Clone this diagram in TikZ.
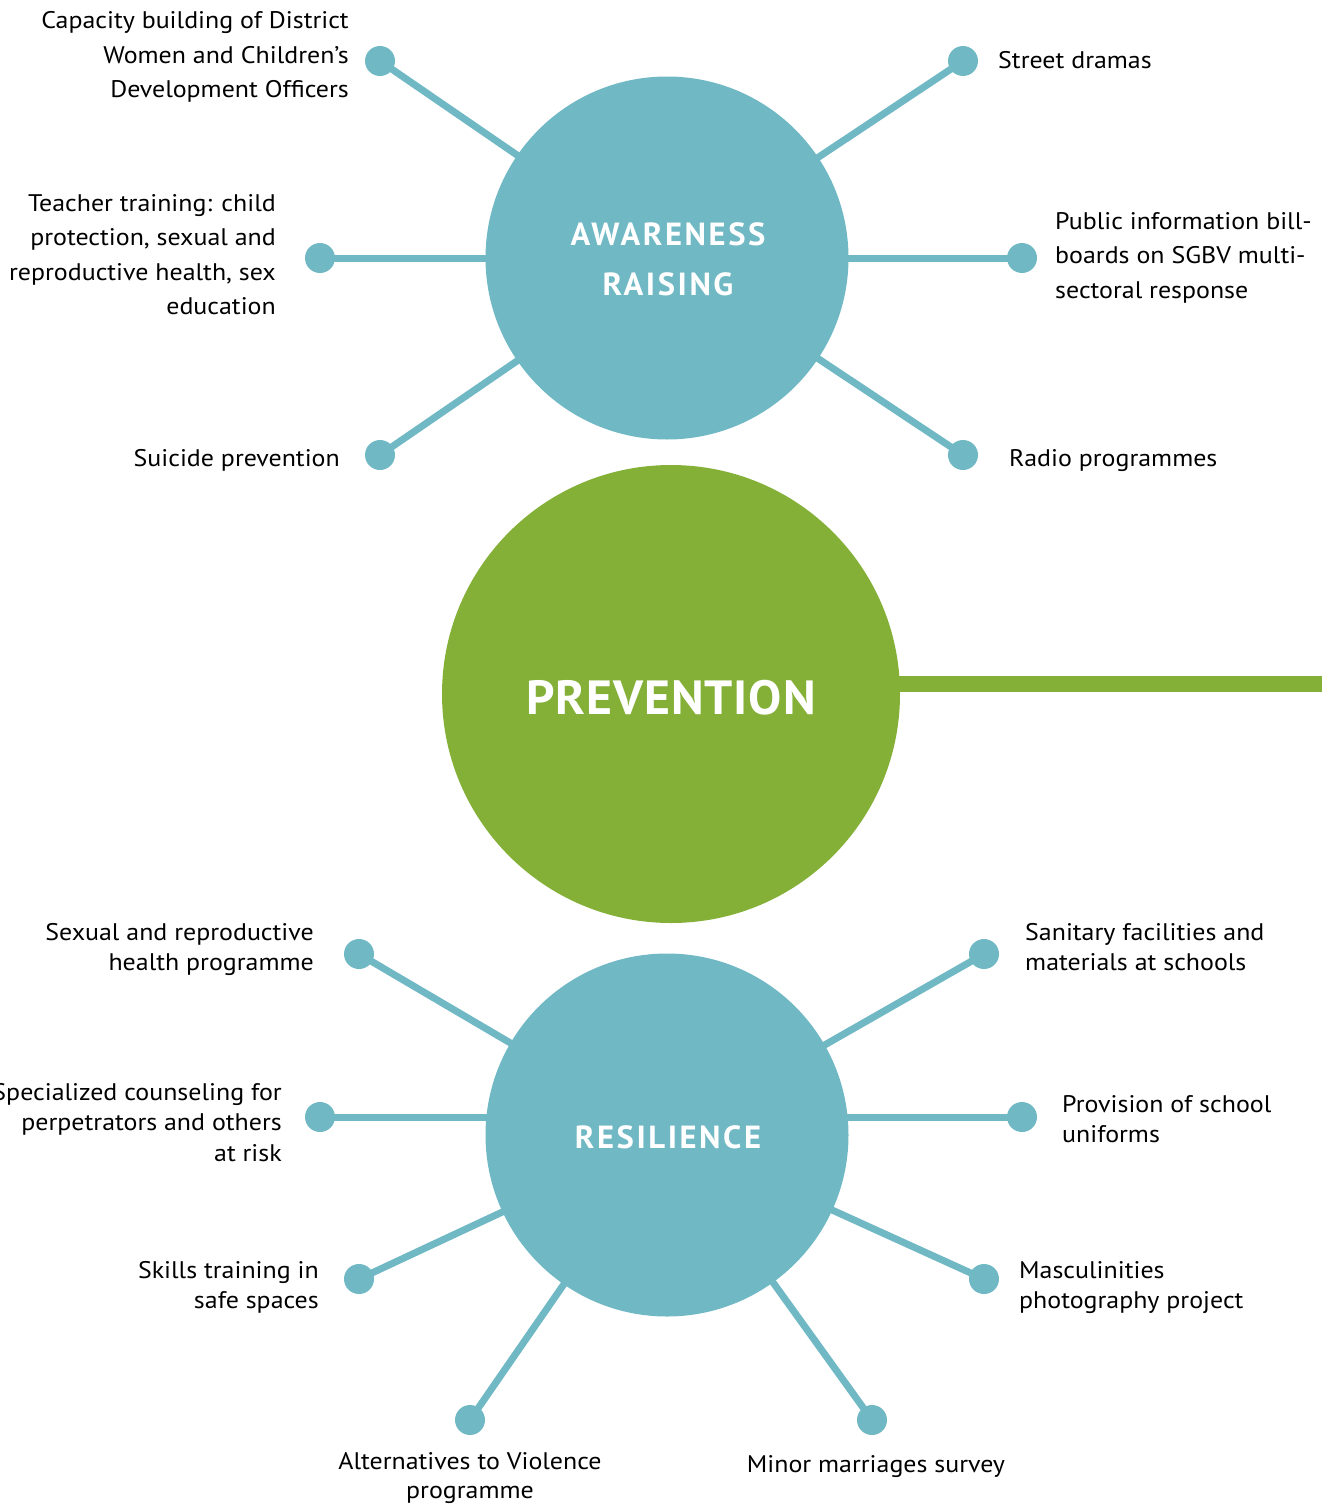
\documentclass[tikz,border=0pt]{standalone}
\usepackage{fontspec}
\setmainfont{PT Sans}[FakeStretch=1.08]
\newfontfamily\hubfont{PT Sans}[LetterSpace=8,FakeStretch=1.02]
\newfontfamily\bigfont{PT Sans}[LetterSpace=2,FakeStretch=1.035]
\usetikzlibrary{backgrounds}
\definecolor{spoketeal}{HTML}{6FB8C4}
\definecolor{leafgreen}{HTML}{84B038}

% right / left / centred label blocks, first row on the node's baseline
\newcommand\rblock[1]{\begin{tabular}[t]{@{}r@{}}#1\end{tabular}}
\newcommand\lblock[1]{\begin{tabular}[t]{@{}l@{}}#1\end{tabular}}
\newcommand\cblock[1]{\begin{tabular}[t]{@{}c@{}}#1\end{tabular}}

\begin{document}
\begin{tikzpicture}[x=1pt,y=-1pt,
  spoke/.style={draw=spoketeal, line width=7pt},
  bar/.style={draw=leafgreen, line width=16pt},
  dot/.style={circle, fill=spoketeal, minimum size=30pt, inner sep=0pt},
  hub/.style={circle, fill=spoketeal, minimum size=363pt, inner sep=0pt},
  core/.style={circle, fill=leafgreen, minimum size=458pt, inner sep=0pt},
  lab/.style={inner sep=0pt, font=\fontsize{24}{34.5}\selectfont},
  labtight/.style={inner sep=0pt, font=\fontsize{24}{30.5}\selectfont},
  hubtext/.style={inner sep=0pt, text=white, font=\hubfont\bfseries\fontsize{32}{38}\selectfont},
  coretext/.style={inner sep=0pt, text=white, font=\bigfont\bfseries\fontsize{48}{56}\selectfont}
]
\useasboundingbox (0,0) rectangle (1322,1504);

% ---------- hubs ----------
\node[hub]  (aware) at (667,258)  {};
\node[core] (prev)  at (671,694)  {};
\node[hub]  (resil) at (667,1135) {};

\node[hubtext, anchor=base] (awaret1) at (668,245) {AWARENESS};
\node[hubtext, anchor=base] (awaret2) at (668,295) {RAISING};
\node[coretext, anchor=base] (prevt) at (671,714) {PREVENTION};
\node[hubtext, anchor=base] (resilt) at (668,1148) {RESILIENCE};

% ---------- awareness raising spokes ----------
\node[dot] (a1) at (380,61)   {};
\node[dot] (a2) at (963,61)   {};
\node[dot] (a3) at (320,258)  {};
\node[dot] (a4) at (1022,258) {};
\node[dot] (a5) at (380,455)  {};
\node[dot] (a6) at (963,455)  {};

% ---------- resilience spokes ----------
\node[dot] (r1) at (359,954)  {};
\node[dot] (r2) at (984,954)  {};
\node[dot] (r3) at (320,1117) {};
\node[dot] (r4) at (1022,1117){};
\node[dot] (r5) at (359,1279) {};
\node[dot] (r6) at (984,1279) {};
\node[dot] (r7) at (470,1420) {};
\node[dot] (r8) at (872,1420) {};

\coordinate (barend) at (1322,684);

\begin{scope}[on background layer]
  \foreach \d in {a1,a2,a3,a4,a5,a6}
    \draw[spoke] (\d.center) -- (aware.center);
  \foreach \d in {r1,r2,r5,r6,r7,r8}
    \draw[spoke] (\d.center) -- (resil.center);
  \draw[spoke] (r3.center) -- (r3.center -| resil.center);
  \draw[spoke] (r4.center) -- (r4.center -| resil.center);
  \draw[bar] (prev.center |- barend) -- (barend);
\end{scope}

% ---------- awareness raising labels ----------
\node[lab, anchor=base east] (capacity) at (349,29)
  {\rblock{Capacity building of District\\Women and Children’s\\Development Officers}};
\node[lab, anchor=base west] (street) at (998,69) {Street dramas};
\node[lab, anchor=base east] (teacher) at (276,211)
  {\rblock{Teacher training: child\\protection, sexual and\\reproductive health, sex\\education}};
\node[lab, anchor=base west] (public) at (1055,229)
  {\lblock{Public information bill-\\boards on SGBV multi-\\sectoral response}};
\node[lab, anchor=base east] (suicide) at (340,466) {Suicide prevention};
\node[lab, anchor=base west] (radio) at (1009,466) {Radio programmes};

% ---------- resilience labels ----------
\node[labtight, anchor=base east] (srh) at (314,940)
  {\rblock{Sexual and reproductive\\health programme}};
\node[labtight, anchor=base west] (sanitary) at (1025,940)
  {\lblock{Sanitary facilities and\\materials at schools}};
\node[labtight, anchor=base east] (counsel) at (282,1100)
  {\rblock{Specialized counseling for\\perpetrators and others\\at risk}};
\node[labtight, anchor=base west] (uniforms) at (1062,1112)
  {\lblock{Provision of school\\uniforms}};
\node[labtight, anchor=base east] (skills) at (319,1278)
  {\rblock{Skills training in\\safe spaces}};
\node[labtight, anchor=base west] (mascul) at (1019,1278)
  {\lblock{Masculinities\\photography project}};
\node[labtight, anchor=base, font=\fontsize{24}{29.5}\selectfont] (avp) at (470,1469)
  {\cblock{Alternatives to Violence\\programme}};
\node[labtight, anchor=base] (minor) at (876,1472) {Minor marriages survey};
\end{tikzpicture}
\end{document}
